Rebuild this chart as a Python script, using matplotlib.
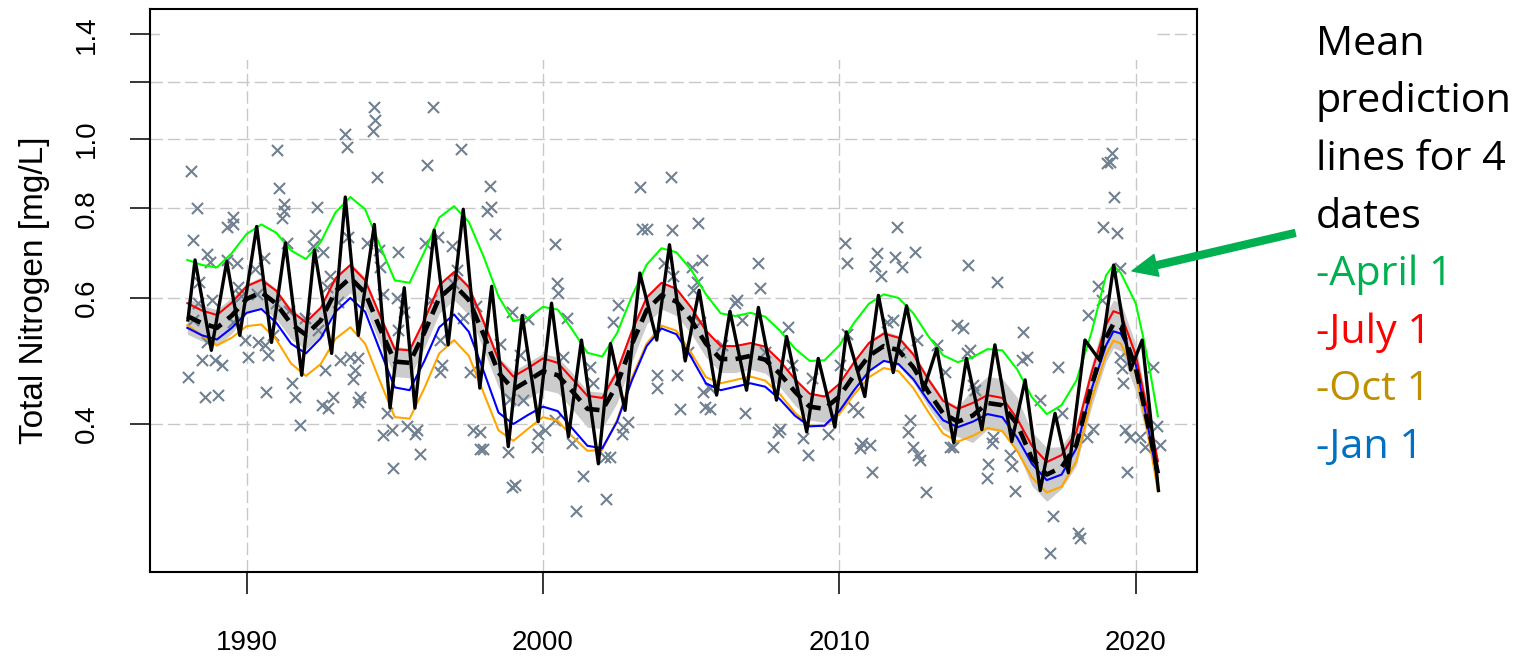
import numpy as np
import matplotlib
matplotlib.use("Agg")
import matplotlib.pyplot as plt
from matplotlib.patches import Rectangle, FancyArrowPatch
from matplotlib.ticker import NullLocator

plt.rcParams['font.family'] = ['Liberation Sans', 'DejaVu Sans']

# time grid (half years, plus the 2019 peak and the last months) for the smooth model curves
t_fit = np.sort(np.concatenate([np.arange(1988.0, 2020.6, 0.5), [2019.25, 2020.25, 2020.75]]))

# mean prediction lines for 4 dates [mg/L]
apr1 = [.678, .667, .662, .693, .737, .76, .74, .699, .68, .718, .79, .83, .798, .71, .635, .63, .696,
        .777, .806, .766, .685, .603, .557, .563, .583, .578, .541, .503, .497, .536, .603, .668, .704,
        .695, .657, .607, .571, .566, .572, .565, .54, .51, .49, .491, .515, .554, .589, .607, .60, .571,
        .531, .499, .488, .496, .509, .507, .477, .436, .413, .425, .46, .535, .645, .667, .65, .59, .53,
        .47, .41]
jul1 = [.59, .576, .568, .591, .623, .636, .614, .575, .555, .581, .639, .667, .635, .567, .509, .507, .559,
        .625, .652, .621, .555, .492, .466, .479, .494, .487, .462, .438, .435, .473, .539, .601, .63,
        .618, .582, .54, .514, .514, .519, .513, .49, .462, .441, .437, .455, .488, .519, .535, .528, .5,
        .462, .431, .42, .428, .439, .435, .407, .373, .354, .362, .39, .47, .55, .575, .57, .50, .447,
        .40, .355]
oct1 = [.55, .531, .515, .528, .548, .551, .525, .486, .467, .485, .526, .546, .518, .459, .409, .407, .449,
        .502, .524, .498, .442, .392, .379, .394, .409, .404, .384, .367, .368, .405, .464, .518, .549,
        .54, .503, .465, .456, .461, .466, .46, .44, .415, .398, .397, .413, .44, .465, .479, .474, .449,
        .416, .388, .378, .385, .395, .391, .367, .337, .321, .327, .355, .432, .50, .523, .518, .47, .42,
        .37, .323]
jan1 = [.545, .532, .525, .545, .572, .579, .554, .518, .502, .527, .574, .60, .574, .507, .45, .446, .49,
        .546, .569, .538, .474, .415, .40, .412, .423, .417, .394, .373, .37, .403, .46, .514, .544,
        .534, .496, .456, .446, .451, .456, .451, .433, .411, .397, .398, .417, .446, .474, .49, .485, .462,
        .431, .405, .396, .403, .413, .409, .383, .352, .334, .34, .37, .446, .515, .539, .535, .485, .433,
        .38, .333]

# annual mean prediction and its band
annual_mean = [.566, .553, .545, .567, .598, .611, .589, .552, .533, .558, .613, .640, .610, .544, .489, .487,
               .537, .600, .626, .596, .533, .472, .447, .460, .474, .468, .444, .420, .418, .454, .517, .577,
               .605, .593, .559, .518, .493, .493, .498, .492, .470, .444, .423, .420, .437, .468, .498, .514,
               .507, .480, .444, .414, .403, .411, .428, .425, .400, .358, .340, .348, .374, .451, .528, .552,
               .547, .480, .430, .384, .341]
band_hi = [.600, .586, .578, .601, .628, .642, .618, .580, .560, .586, .644, .672, .641, .571, .513, .511,
           .564, .630, .657, .626, .560, .496, .474, .488, .502, .496, .471, .445, .443, .481, .548, .603,
           .632, .620, .584, .541, .515, .515, .520, .514, .491, .464, .442, .439, .459, .491, .523, .540,
           .532, .504, .466, .435, .423, .448, .466, .463, .436, .390, .371, .372, .400, .483, .570, .596,
           .591, .518, .458, .403, .358]
band_lo = [.534, .522, .514, .535, .570, .582, .561, .526, .508, .531, .584, .610, .581, .518, .466, .464,
           .511, .571, .596, .568, .508, .450, .422, .434, .447, .442, .419, .396, .394, .428, .488, .552,
           .579, .567, .535, .496, .472, .472, .477, .471, .450, .425, .405, .402, .416, .446, .474, .490,
           .483, .457, .423, .394, .384, .377, .393, .390, .367, .328, .312, .325, .350, .421, .489, .511,
           .506, .444, .404, .366, .325]

# daily prediction (seasonal curve): peaks and troughs
t_daily = [1988.02, 1988.26, 1988.81, 1989.33, 1989.77, 1990.34, 1990.84, 1991.31, 1991.86, 1992.29,
           1992.87, 1993.33, 1993.77, 1994.31, 1994.84, 1995.32, 1995.68, 1996.33, 1996.8, 1997.31,
           1997.87, 1998.27, 1998.83, 1999.3, 1999.84, 2000.29, 2000.86, 2001.3, 2001.87, 2002.28,
           2002.77, 2003.27, 2003.84, 2004.27, 2004.8, 2005.27, 2005.86, 2006.31, 2006.87, 2007.27,
           2007.88, 2008.22, 2008.9, 2009.29, 2009.85, 2010.24, 2010.86, 2011.32, 2011.82, 2012.27,
           2012.84, 2013.29, 2013.86, 2014.29, 2014.81, 2015.25, 2015.82, 2016.27, 2016.78, 2017.28,
           2017.73, 2018.29, 2018.8, 2019.26, 2019.83, 2020.22, 2020.77]
tn_daily = [.559, .678, .507, .675, .532, .755, .52, .716, .468, .70,
            .502, .83, .532, .76, .421, .62, .421, .746, .516, .798,
            .449, .623, .372, .567, .403, .59, .384, .524, .352, .518,
            .418, .65, .524, .712, .49, .615, .439, .575, .446, .582,
            .432, .53, .39, .494, .396, .538, .437, .605, .472, .585,
            .446, .51, .377, .494, .393, .516, .378, .461, .323, .414,
            .342, .524, .49, .667, .476, .524, .323]

# observed samples
obs_year = [1988.14, 1988.31, 1988.20, 1988.65, 1988.76, 1988.40, 1989.35, 1989.55, 1989.53, 1989.35,
            1989.66, 1989.72, 1991.01, 1991.10, 1991.26, 1991.26, 1991.18, 1991.35, 1990.58, 1990.28,
            1990.34, 1992.38, 1992.31, 1992.25, 1992.57, 1992.81, 1992.70, 1993.31, 1993.40, 1994.30,
            1994.33, 1994.25, 1994.39, 1993.43, 1994.05, 1994.48, 1994.50, 1994.61, 1995.12, 1996.28,
            1996.10, 1997.23, 1998.21, 1998.24, 1998.10, 1998.38, 1996.02, 1996.47, 1996.92, 1997.09,
            1996.97, 2000.41, 2000.46, 2000.52, 2003.27, 2004.31, 2003.33, 2003.50, 2004.34, 2005.24,
            2004.08, 2004.39, 2005.02, 2005.36, 2005.19, 2005.07, 2007.27, 2007.32, 2006.54, 2010.19,
            2010.27, 2011.94, 2011.26, 2011.21, 2011.40, 2011.88, 2012.11, 2012.56, 2014.35, 2015.33,
            2019.19, 2019.03, 2019.14, 2019.27, 2018.91, 2019.38, 2018.74, 2019.47, 1988.03, 1988.20,
            1988.48, 1988.65, 1988.93, 1989.16, 1988.59, 1989.04, 1989.55, 1990.05, 1989.94, 1990.39,
            1990.62, 1990.73, 1990.90, 1990.65, 1991.52, 1991.63, 1991.80, 1992.53, 1992.75, 1992.92,
            1992.64, 1993.15, 1993.49, 1993.77, 1993.66, 1993.60, 1993.82, 1993.77, 1994.73, 1994.61,
            1994.89, 1994.95, 1995.40, 1995.74, 1995.68, 1995.85, 1996.58, 1996.52, 1997.65, 1997.87,
            1997.87, 1997.99, 1998.83, 1998.94, 1999.06, 1999.79, 1999.84, 1998.55, 1998.89, 1999.34,
            1997.54, 1988.36, 1988.83, 1989.81, 1990.99, 1991.43, 1991.97, 1993.08, 1995.07, 1995.31,
            1996.22, 1997.30, 1997.74, 1998.95, 1999.49, 1992.41, 1995.11, 1996.52, 1999.22, 2000.07,
            2000.41, 2000.97, 2001.34, 2001.11, 2002.13, 2002.26, 2002.09, 2002.66, 2002.88, 2002.71,
            2002.54, 2002.37, 2001.59, 2001.70, 2000.69, 2003.84, 2003.84, 2004.51, 2004.62, 2005.47,
            2005.64, 2005.41, 2005.64, 2006.48, 2006.82, 2007.77, 2008.00, 2007.94, 2008.28, 2008.79,
            2008.95, 2009.63, 2010.25, 2010.70, 2011.04, 2010.76, 2011.09, 2010.47, 2010.64, 2011.60,
            2011.82, 2012.39, 2012.33, 2012.50, 2012.67, 2012.72, 2012.93, 2012.61, 2013.29, 2013.74,
            2013.96, 2000.81, 2005.30, 2006.04, 2007.49, 2008.40, 2009.08, 2010.02, 2012.05, 2013.57,
            2004.89, 2006.72, 2014.19, 2014.30, 2014.41, 2013.85, 2014.58, 2014.52, 2015.03, 2014.98,
            2015.20, 2015.14, 2015.76, 2015.82, 2015.93, 2016.19, 2016.33, 2016.16, 2016.77, 2017.22,
            2017.11, 2018.07, 2018.12, 2017.39, 2017.51, 2018.40, 2018.35, 2018.57, 2018.86, 2019.47,
            2019.53, 2019.57, 2019.64, 2019.81, 2020.15, 2019.70, 2020.32, 2020.60, 2020.71, 2020.82]
obs_tn = [.903, .800, .723, .691, .674, .632, .753, .779, .761, .678,
          .671, .622, .967, .854, .812, .794, .775, .717, .682, .658,
          .608, .803, .735, .708, .696, .643, .622, 1.016, .974, 1.108,
          1.065, 1.027, .886, .729, .715, .700, .663, .608, .696, 1.110,
          .920, .968, .861, .804, .794, .738, .717, .730, .708, .656,
          .629, .714, .629, .610, .858, .886, .748, .748, .746, .764,
          .671, .644, .663, .678, .632, .615, .672, .620, .597, .717,
          .671, .753, .693, .665, .644, .684, .663, .696, .667, .632,
          .956, .925, .930, .830, .753, .740, .623, .660, .465, .559,
          .491, .521, .491, .483, .437, .439, .556, .496, .524, .521,
          .515, .499, .532, .444, .456, .437, .399, .425, .421, .437,
          .476, .491, .496, .494, .476, .463, .437, .430, .414, .386,
          .392, .347, .397, .392, .388, .363, .483, .473, .392, .390,
          .369, .369, .366, .327, .329, .372, .388, .518, .434, .432,
          .473, .590, .596, .604, .590, .575, .563, .592, .600, .573,
          .596, .563, .584, .573, .561, .541, .541, .524, .499, .392,
          .405, .376, .338, .302, .314, .360, .360, .388, .403, .396,
          .586, .556, .481, .456, .496, .468, .449, .468, .420, .423,
          .420, .444, .449, .590, .414, .372, .394, .390, .547, .382,
          .362, .388, .535, .370, .374, .376, .343, .423, .416, .556,
          .559, .405, .390, .372, .362, .356, .321, .524, .515, .372,
          .550, .563, .555, .515, .504, .483, .464, .483, .504, .473,
          .504, .559, .544, .502, .507, .372, .446, .454, .352, .336,
          .384, .376, .362, .349, .323, .538, .496, .491, .432, .298,
          .264, .282, .277, .481, .414, .568, .384, .394, .596, .496,
          .479, .456, .392, .384, .384, .343, .372, .481, .397, .374]

fig = plt.figure(figsize=(15.22, 6.56), dpi=100)
ax = fig.add_axes([0.09855, 0.12851, 0.68791, 0.85731])

ax.fill_between(t_fit, band_lo, band_hi, color='#CCCCCC', lw=0, zorder=1)
ax.scatter(obs_year, obs_tn, marker='x', s=64, color='#708090', linewidths=1.5, zorder=2)
for vals, col in [(apr1, '#00FF00'), (jul1, '#FF0000'), (oct1, '#FFA500'), (jan1, '#0000FF')]:
    ax.plot(t_fit, vals, color=col, lw=1.5, zorder=3)
ax.plot(t_daily, tn_daily, color='black', lw=2.4, zorder=4)
ax.plot(t_fit, annual_mean, color='black', lw=3.3, ls=(0, (3.2, 1.8)), zorder=5)

ax.set_yscale('log')
ax.set_xlim(1986.74, 2022.07)
ax.set_ylim(0.2488, 1.518)
ax.set_xticks([1990, 2000, 2010, 2020])
ax.set_yticks([0.4, 0.6, 0.8, 1.0, 1.2, 1.4])
ax.set_yticklabels(['0.4', '0.6', '0.8', '1.0', '', '1.4'], rotation=90, va='center')
ax.yaxis.set_minor_locator(NullLocator())
ax.tick_params(axis='x', length=15.8, width=1.1, pad=26, labelsize=20)
ax.tick_params(axis='y', length=14.4, width=1.1, pad=21.5, labelsize=20)
for s in ax.spines.values():
    s.set_linewidth(1.5)
ax.set_axisbelow(True)
ax.grid(True, color='#C8C8C8', lw=1.0, ls=(0, (9, 3.5)))
# blank strip at the top where the grid is not drawn
ax.add_patch(Rectangle((0.0095, 0.91), 0.9505, 0.1, transform=ax.transAxes,
                       facecolor='white', lw=0, zorder=0.8))

fig.text(0.0225, 0.557, 'Total Nitrogen [mg/L]', rotation=90, ha='center', va='center', fontsize=24)

# side note
note = [('Mean', 'black'), ('prediction', 'black'), ('lines for 4', 'black'), ('dates', 'black'),
        ('-April 1', '#00B050'), ('-July 1', '#FF0000'), ('-Oct 1', '#BF9000'), ('-Jan 1', '#0070C0')]
base_y = [0.9162, 0.8297, 0.7409, 0.6524, 0.5655, 0.4771, 0.3902, 0.3018]
for (txt, col), yy in zip(note, base_y):
    fig.text(0.8645, yy, txt, color=col, fontsize=29.8, family=['Open Sans', 'DejaVu Sans'], va='baseline')

arrow = FancyArrowPatch((0.8509, 0.6448), (0.7438, 0.5869), transform=fig.transFigure,
                        arrowstyle='simple,head_length=18,head_width=16,tail_width=5',
                        mutation_scale=1, color='#00B050', shrinkA=0, shrinkB=0, zorder=10)
fig.add_artist(arrow)

fig.savefig('out.png', dpi=100)
